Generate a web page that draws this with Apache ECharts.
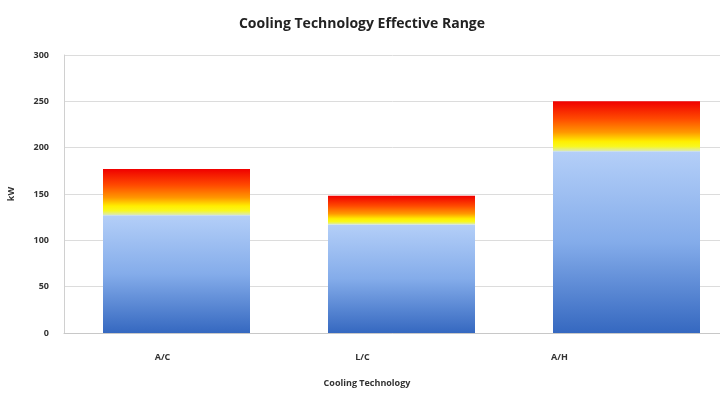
<!DOCTYPE html>
<html>
<head>
<meta charset="utf-8">
<script src="https://cdn.jsdelivr.net/npm/echarts@6/dist/echarts.min.js"></script>
<style>
  html, body { margin: 0; padding: 0; background: #fff; }
  #chart { width: 720px; height: 405px; }
</style>
</head>
<body>
<div id="chart"></div>
<script>
// values (kW)
const categories = ['A/C', 'L/C', 'A/H'];
const baseRange = [127, 117, 196];     // blue part
const extendedRange = [50, 31, 54];    // yellow -> red part on top
const yTicks = [0, 50, 100, 150, 200, 250, 300];

const chart = echarts.init(document.getElementById('chart'), null, { renderer: 'canvas' });

const blueFill = new echarts.graphic.LinearGradient(0, 0, 0, 1, [
  { offset: 0, color: '#b4cff8' },
  { offset: 0.5, color: '#84acea' },
  { offset: 1, color: '#3568c0' }
]);
const hotFill = new echarts.graphic.LinearGradient(0, 0, 0, 1, [
  { offset: 0, color: '#f00000' },
  { offset: 0.35, color: '#ff4a00' },
  { offset: 0.62, color: '#ff9800' },
  { offset: 0.8, color: '#ffee00' },
  { offset: 0.9, color: '#f8f820' },
  { offset: 1, color: '#d8e8c0' }
]);

// shift each label a bit left, the way the source picture has them
const labelShift = [28, 78, 134];

chart.setOption({
  backgroundColor: '#ffffff',
  animation: false,
  title: [
    {
      text: 'Cooling Technology Effective Range',
      left: 357, top: 12, textAlign: 'center',
      textStyle: { fontFamily: 'Open Sans', fontSize: 14, fontWeight: 'bold', color: '#222' }
    },
    {
      text: 'Cooling Technology',
      left: 362, top: 374, textAlign: 'center',
      textStyle: { fontFamily: 'Open Sans', fontSize: 9, fontWeight: 'bold', color: '#333' }
    }
  ],
  grid: { left: 64, top: 55, width: 675, bottom: 72, outerBoundsMode: 'none' },
  xAxis: {
    type: 'category',
    data: categories,
    axisLine: { lineStyle: { color: '#c8c8c8' } },
    axisTick: { show: false },
    axisLabel: {
      margin: 20,
      formatter: (v, i) => '{l' + i + '|' + v + '}',
      rich: {
        l0: { padding: [0, labelShift[0], 0, 0], fontSize: 9, fontWeight: 'bold', color: '#333', fontFamily: 'Open Sans' },
        l1: { padding: [0, labelShift[1], 0, 0], fontSize: 9, fontWeight: 'bold', color: '#333', fontFamily: 'Open Sans' },
        l2: { padding: [0, labelShift[2], 0, 0], fontSize: 9, fontWeight: 'bold', color: '#333', fontFamily: 'Open Sans' }
      }
    }
  },
  yAxis: {
    type: 'value',
    min: yTicks[0],
    max: yTicks[yTicks.length - 1],
    interval: 50,
    name: 'kW',
    nameLocation: 'middle',
    nameGap: 48,
    nameRotate: 90,
    nameTextStyle: { fontFamily: 'Open Sans', fontSize: 9, fontWeight: 'bold', color: '#333' },
    axisLine: { show: true, lineStyle: { color: '#d0d0d0' } },
    axisTick: { show: false },
    axisLabel: { margin: 15, fontFamily: 'Open Sans', fontSize: 9, fontWeight: 'bold', color: '#333' },
    splitLine: { lineStyle: { color: '#dcdcdc' } }
  },
  series: [
    {
      type: 'bar', stack: 'range', data: baseRange, barWidth: 147,
      itemStyle: { color: blueFill }
    },
    {
      type: 'bar', stack: 'range', data: extendedRange, barWidth: 147,
      itemStyle: { color: hotFill }
    }
  ]
});
</script>
</body>
</html>
